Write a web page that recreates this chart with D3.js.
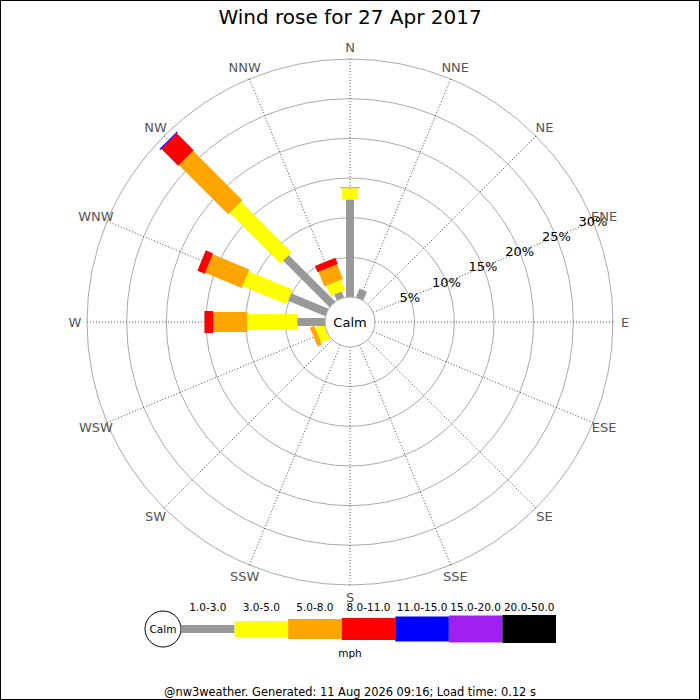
<!DOCTYPE html>
<html>
<head>
<meta charset="utf-8">
<script src="https://cdn.jsdelivr.net/npm/d3@7"></script>
<style>
  body { margin: 0; background: #fff; }
  svg { display: block; font-family: "DejaVu Sans", sans-serif; }
</style>
</head>
<body>
<svg id="chart"></svg>
<script>
const directions = ["N", "NNE", "NE", "ENE", "E", "ESE", "SE", "SSE",
  "S", "SSW", "SW", "WSW", "W", "WNW", "NW", "NNW"];
const speedBands = ["1.0-3.0", "3.0-5.0", "5.0-8.0", "8.0-11.0",
  "11.0-15.0", "15.0-20.0", "20.0-50.0"];
const bandColors = ["#999999", "#ffff00", "#ffa500", "#ff0000",
  "#0000ff", "#a020f0", "#000000"];
const bandWidths = [8, 16, 20, 22, 25, 27, 28];

// percent of time per direction, one array per speed band
const band1to3 = [12.3, 1.2, 0, 0, 0, 0, 0, 0, 0, 0, 0, 0, 3.5, 5.1, 8.3, 0.8];
const band3to5 = [1.4, 0, 0, 0, 0, 0, 0, 0, 0, 0, 0, 1.2, 6.3, 6.0, 9.0, 1.4];
const band5to8 = [0.15, 0, 0, 0, 0, 0, 0, 0, 0, 0, 0, 0.6, 4.3, 5.0, 8.8, 2.0];
const band8to11 = [0, 0, 0, 0, 0, 0, 0, 0, 0, 0, 0, 0, 1.1, 1.0, 3.0, 0.85];
const band11to15 = [0, 0, 0, 0, 0, 0, 0, 0, 0, 0, 0, 0, 0, 0, 0.15, 0];
const band15to20 = [0, 0, 0, 0, 0, 0, 0, 0, 0, 0, 0, 0, 0, 0, 0, 0];
const band20to50 = [0, 0, 0, 0, 0, 0, 0, 0, 0, 0, 0, 0, 0, 0, 0, 0];
const bandValues = [band1to3, band3to5, band5to8, band8to11, band11to15, band15to20, band20to50];

const ringTicks = [5, 10, 15, 20, 25, 30];
const title = "Wind rose for 27 Apr 2017";
const footer = "@nw3weather. Generated: 11 Aug 2026 09:16; Load time: 0.12 s";

const width = 700, height = 700;
const cx = 350, cy = 322;
const calmR = 25, outerR = 263;

const svg = d3.select("#chart").attr("width", width).attr("height", height);

svg.append("rect")
  .attr("x", 0.5).attr("y", 0.5)
  .attr("width", width - 1).attr("height", height - 1)
  .attr("fill", "#fff").attr("stroke", "#000");

svg.append("text")
  .attr("x", cx).attr("y", 24)
  .attr("text-anchor", "middle")
  .attr("font-size", 20)
  .text(title);

const r = d3.scaleLinear().domain([0, 30]).range([calmR, outerR]);
const angle = d3.scaleBand().domain(directions).range([0, 360]);
const deg = (d) => angle(d); // N at index 0 -> 0 degrees

const g = svg.append("g").attr("transform", `translate(${cx},${cy})`);

// rings
g.selectAll("circle.ring")
  .data(ringTicks)
  .enter()
  .append("circle")
  .attr("class", "ring")
  .attr("r", (d) => r(d))
  .attr("fill", "none")
  .attr("stroke", "#aaa")
  .attr("stroke-width", 1);

// spokes
g.selectAll("line.spoke")
  .data(directions)
  .enter()
  .append("line")
  .attr("class", "spoke")
  .attr("transform", (d) => `rotate(${deg(d)})`)
  .attr("x1", 0).attr("y1", -calmR)
  .attr("x2", 0).attr("y2", -outerR)
  .attr("stroke", "#333")
  .attr("stroke-width", 0.8)
  .attr("stroke-dasharray", "1,2");

// compass labels
const labelR = outerR + 12;
g.selectAll("text.dir")
  .data(directions)
  .enter()
  .append("text")
  .attr("class", "dir")
  .attr("x", (d) => labelR * Math.sin(deg(d) * Math.PI / 180))
  .attr("y", (d) => -labelR * Math.cos(deg(d) * Math.PI / 180))
  .attr("dy", "0.35em")
  .attr("text-anchor", "middle")
  .attr("font-size", 13)
  .attr("fill", "#555")
  .text((d) => d);

// stacked bars
const segments = [];
directions.forEach((dir, i) => {
  let acc = 0;
  bandValues.forEach((vals, b) => {
    const v = vals[i];
    if (v > 0) {
      segments.push({ dir, band: b, from: acc, to: acc + v });
      acc += v;
    }
  });
});

g.selectAll("rect.seg")
  .data(segments)
  .enter()
  .append("rect")
  .attr("class", "seg")
  .attr("transform", (d) => `rotate(${deg(d.dir)})`)
  .attr("x", (d) => -bandWidths[d.band] / 2)
  .attr("width", (d) => bandWidths[d.band])
  .attr("y", (d) => -r(d.to))
  .attr("height", (d) => r(d.to) - r(d.from))
  .attr("fill", (d) => bandColors[d.band]);

// calm circle
g.append("circle")
  .attr("r", calmR)
  .attr("fill", "#fff")
  .attr("stroke", "#aaa");
g.append("text")
  .attr("dy", "0.35em")
  .attr("text-anchor", "middle")
  .attr("font-size", 13)
  .text("Calm");

// percent labels along ENE
const labAng = deg("ENE") * Math.PI / 180;
g.selectAll("text.pct")
  .data(ringTicks)
  .enter()
  .append("text")
  .attr("class", "pct")
  .attr("x", (d) => r(d) * Math.sin(labAng))
  .attr("y", (d) => -r(d) * Math.cos(labAng))
  .attr("dy", "0.35em")
  .attr("text-anchor", "middle")
  .attr("font-size", 13)
  .text((d) => d + "%");

// legend
const legX = d3.scaleBand().domain(speedBands).range([181, 556]);
const legY = 629;
const leg = svg.append("g");
leg.append("circle")
  .attr("cx", 163).attr("cy", legY).attr("r", 18)
  .attr("fill", "#fff").attr("stroke", "#000");
leg.append("text")
  .attr("x", 163).attr("y", legY).attr("dy", "0.35em")
  .attr("text-anchor", "middle").attr("font-size", 10.5)
  .text("Calm");
leg.selectAll("rect")
  .data(speedBands)
  .enter()
  .append("rect")
  .attr("x", (d) => legX(d))
  .attr("width", legX.bandwidth())
  .attr("y", (d, i) => legY - bandWidths[i] / 2)
  .attr("height", (d, i) => bandWidths[i])
  .attr("fill", (d, i) => bandColors[i]);
leg.selectAll("text.band")
  .data(speedBands)
  .enter()
  .append("text")
  .attr("class", "band")
  .attr("x", (d) => legX(d) + legX.bandwidth() / 2)
  .attr("y", 611)
  .attr("text-anchor", "middle")
  .attr("font-size", 10.5)
  .text((d) => d);
leg.append("text")
  .attr("x", 350).attr("y", 657)
  .attr("text-anchor", "middle").attr("font-size", 10.5)
  .text("mph");

svg.append("text")
  .attr("x", 350).attr("y", 696)
  .attr("text-anchor", "middle")
  .attr("font-size", 11.4)
  .text(footer);
</script>
</body>
</html>
